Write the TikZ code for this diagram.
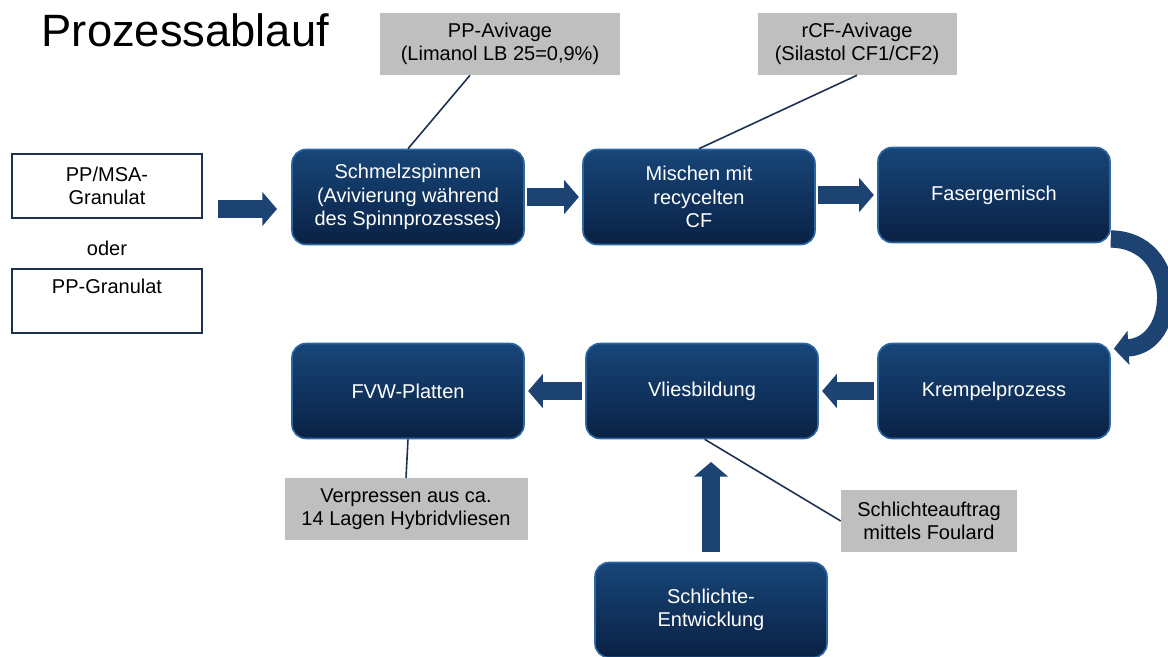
\documentclass[tikz,border=0pt]{standalone}
\usepackage{fontspec}
\setmainfont{Liberation Sans}
\usetikzlibrary{arrows.meta}
\definecolor{boxtop}{HTML}{174679}
\definecolor{boxbot}{HTML}{0A2144}
\definecolor{boxrim}{HTML}{2D67A3}
\definecolor{arrowblue}{HTML}{1D4373}
\definecolor{navy}{HTML}{1F3150}
\definecolor{notegray}{HTML}{BFBFBF}
\begin{document}
\begin{tikzpicture}[x=0.75pt,y=-0.75pt]
    \tikzset{
        step box/.style={rectangle, rounded corners=10.5pt, top color=boxtop, bottom color=boxbot,
            draw=boxrim, line width=1.2pt, text=white, align=center, inner sep=0pt,
            minimum width=174pt, minimum height=71.25pt,
            font=\fontsize{15}{17.5}\selectfont},
        note/.style={rectangle, fill=notegray, align=center, inner sep=0pt,
            minimum height=46.5pt, font=\fontsize{15}{17.5}\selectfont},
        input/.style={rectangle, draw=navy, line width=1.5pt, align=center, inner sep=0pt,
            minimum width=142.5pt, minimum height=48pt, font=\fontsize{15}{17.5}\selectfont},
        blockarrow/.style={draw=arrowblue, line width=13pt,
            -{Triangle[length=11pt,width=25pt,fill=arrowblue]}},
        link/.style={draw=navy, line width=1.2pt}
    }
    \useasboundingbox (0,0) rectangle (1168,657);

    % title
    \node[anchor=base west, font=\fontsize{34}{40}\selectfont] (title) at (37,46) {Prozessablauf};

    % process steps
    \node[step box] (sp) at (408,197) {Schmelzspinnen\\(Avivierung während\\des Spinnprozesses)};
    \node[step box] (mi) at (699,197) {Mischen mit\\recycelten\\CF};
    \node[step box] (fg) at (994,195) {Fasergemisch};
    \node[step box] (kp) at (994,391) {Krempelprozess};
    \node[step box] (vb) at (702,391) {Vliesbildung};
    \node[step box] (fvw) at (408,391) {FVW-Platten};
    \node[step box] (se) at (711,610) {Schlichte-\\Entwicklung};

    % raw material
    \node[input] (msa) at (107,186) {PP/MSA-\\Granulat};
    \node[font=\fontsize{15}{17.5}\selectfont] (oder) at (107,248) {oder};
    \node[input] (pp) at (107,301) {PP-Granulat\\\strut};

    % notes
    \node[note, minimum width=180pt] (pa) at (500,44) {PP-Avivage\\(Limanol LB 25=0,9\%)};
    \node[note, minimum width=149.25pt] (rcf) at (857,44) {rCF-Avivage\\(Silastol CF1/CF2)};
    \node[note, minimum width=182.25pt] (vp) at (406,509) {Verpressen aus ca.\\14 Lagen Hybridvliesen};
    \node[note, minimum width=132pt] (sa) at (929,521) {Schlichteauftrag\\mittels Foulard};

    % block arrows
    \coordinate (gin) at (218,209);
    \coordinate (gout) at (277,209);
    \draw[blockarrow] (gin) -- (gout);
    \foreach \a/\b in {sp/mi, mi/fg}{
        \draw[blockarrow] ([xshift=2pt]\a.east |- \b.west) -- ([xshift=-2.5pt]\b.west);
    }
    \foreach \a/\b in {kp/vb, vb/fvw}{
        \draw[blockarrow] ([xshift=-2.5pt]\a.west) -- ([xshift=2.5pt]\b.east);
    }
    \draw[blockarrow] ([yshift=7.5pt]se.north) -- ([yshift=-17pt]se.north |- vb.south);
    \draw[blockarrow] ([shift={(0,44)}]fg.east) .. controls (1182,240) and (1180,345) .. ([shift={(3,6)}]kp.north east);

    % note links
    \draw[link] (sp.north) -- ([xshift=-22.5pt]pa.south);
    \draw[link] (mi.north) -- (rcf.south);
    \draw[link] (fvw.south) -- (vp.north);
    \draw[link] ([xshift=2pt]vb.south) -- (sa.west);
\end{tikzpicture}
\end{document}
